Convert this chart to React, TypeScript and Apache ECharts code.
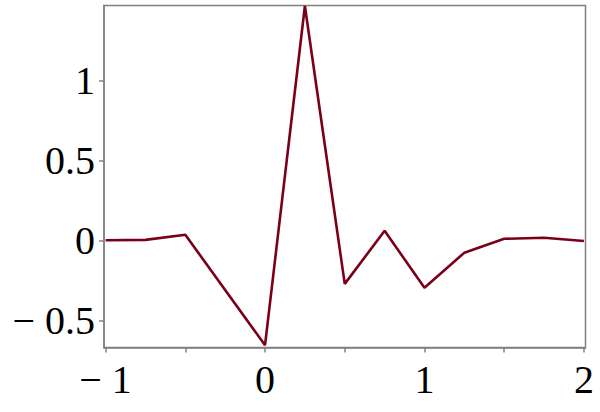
import React, { useEffect, useRef } from "react";
import * as echarts from "echarts";

const xValues = [-1, -0.75, -0.5, 0, 0.25, 0.5, 0.75, 1, 1.25, 1.5, 1.75, 2];
const yValues = [0.003, 0.005, 0.037, -0.653, 1.467, -0.27, 0.062, -0.294, -0.075, 0.012, 0.018, -0.002];
const xTickValues = [-1, -0.5, 0, 0.5, 1, 1.5, 2];
const xLabelValues = [-1, 0, 1, 2];
const yTickValues = [-0.5, 0, 0.5, 1];

const fmt = (v: number) => {
  const r = Math.round(v * 100) / 100;
  return r < 0 ? "\u2212 " + String(-r) : String(r);
};

export default function App() {
  const ref = useRef<HTMLDivElement>(null);
  useEffect(() => {
    if (!ref.current) return;
    const chart = echarts.init(ref.current, null, { renderer: "svg" });
    const gray = "#808080";
    const labelStyle = {
      fontFamily: "Liberation Serif",
      fontSize: 40,
      color: "#000",
    };
    chart.setOption({
      animation: false,
      backgroundColor: "#fff",
      grid: {
        left: 104,
        top: 5.5,
        right: 14.5,
        bottom: 64.5,
        show: true,
        borderColor: gray,
        borderWidth: 1.5,
        containLabel: false,
      },
      xAxis: {
        type: "value",
        min: -1.01,
        max: 2.01,
        splitLine: { show: false },
        axisLine: { show: true, onZero: false, lineStyle: { color: gray, width: 1.5 } },
        axisTick: {
          show: true,
          inside: false,
          length: 5,
          customValues: xTickValues,
          lineStyle: { color: gray, width: 1.5 },
        },
        axisLabel: {
          ...labelStyle,
          margin: 12,
          customValues: xLabelValues,
          formatter: fmt,
        },
      },
      yAxis: {
        type: "value",
        min: -0.6675,
        max: 1.47,
        splitLine: { show: false },
        axisLine: { show: true, onZero: false, lineStyle: { color: gray, width: 1.5 } },
        axisTick: {
          show: true,
          inside: false,
          length: 5,
          customValues: yTickValues,
          lineStyle: { color: gray, width: 1.5 },
        },
        axisLabel: {
          ...labelStyle,
          margin: 9,
          customValues: yTickValues,
          formatter: fmt,
        },
      },
      series: [
        {
          type: "line",
          data: xValues.map((x, i) => [x, yValues[i]]),
          showSymbol: false,
          symbol: "none",
          lineStyle: { color: "#7A0019", width: 2.6 },
          clip: false,
        },
      ],
    });
    return () => chart.dispose();
  }, []);
  return (
    <div
      ref={ref}
      style={{ position: "fixed", left: 0, top: 0, width: 600, height: 412 }}
    />
  );
}
